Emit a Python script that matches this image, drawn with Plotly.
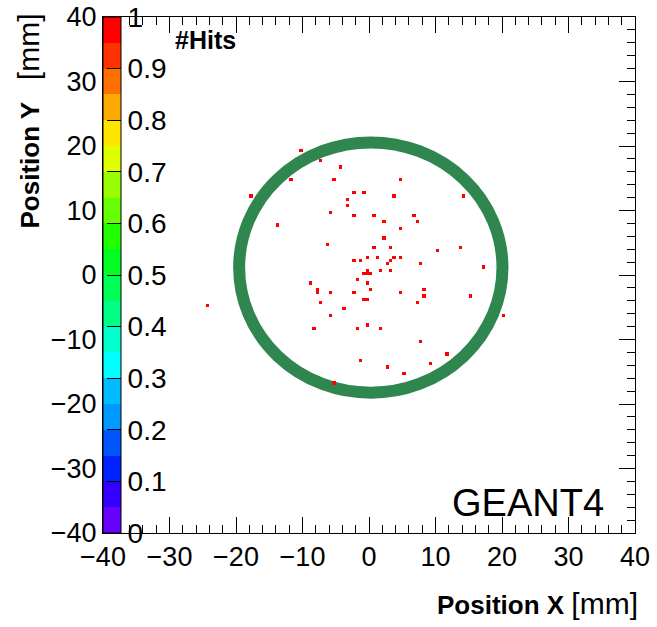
import numpy as np
import plotly.graph_objects as go

# ---- data: hit positions (mm) ----
hit_x = [-10.4, -7.4, -4.4, -11.8, -5.3, 4.7, -2.4, -0.9, 3.6, 14.2, -17.9, -3.4, -3.4,
         -5.9, -2.4, 0.6, 6.7, 2.1, 7.2, -13.9, 4.7, 2.1, -6.4, 0.6, 3.2, 10.2, 13.7,
         -0.4, 1.2, 3.7, 4.7, -2.4, -1.4, 3.2, 2.7, 7.7, 17.2, -0.4, -0.9, -0.4, 0.1,
         1.6, 3.2, -1.9, -8.9, -0.4, 0.1, -7.9, -7.9, -5.9, -2.4, 4.7, 8.2, 8.2, 15.2,
         -0.9, -0.4, -7.4, 7.2, -3.9, -5.9, 20.2, -8.4, -1.9, -0.4, 1.6, 7.7, 11.7,
         -1.4, 2.7, 9.2, 5.2, -5.4, -24.4]
hit_y = [19.2, 17.7, 16.7, 14.7, 14.7, 14.7, 12.7, 12.7, 12.2, 12.2, 12.2, 11.7, 10.7,
         9.7, 9.2, 9.2, 9.2, 8.2, 8.2, 7.7, 7.2, 5.7, 4.7, 4.2, 4.2, 3.7, 4.2,
         2.7, 2.7, 2.7, 2.7, 2.2, 2.2, 2.2, 1.7, 1.7, 1.2, 0.7, 0.2, 0.2, 0.2,
         0.7, 0.7, -0.8, -1.3, -1.3, -2.3, -2.3, -2.8, -2.8, -2.8, -2.8, -2.3, -3.3, -3.3,
         -3.8, -3.8, -4.3, -4.3, -5.3, -6.3, -6.3, -8.3, -8.3, -7.8, -8.3, -10.3, -12.4,
         -13.3, -14.3, -13.8, -15.3, -16.8, -4.8]

# histogram binning
x_min, x_max, n_bins = -40.0, 40.0, 160

# colour bar ticks
cbar_ticks = [0, 0.1, 0.2, 0.3, 0.4, 0.5, 0.6, 0.7, 0.8, 0.9, 1]
cbar_text = ["0", "0.1", "0.2", "0.3", "0.4", "0.5", "0.6", "0.7", "0.8", "0.9", "1"]

# 20-level palette (low -> high)
palette = ["#6600ff", "#3300ff", "#0022ff", "#0055ff", "#0099ff", "#00bbff", "#00ffff",
           "#00ffcc", "#00ff88", "#00ff55", "#00ff22", "#22ff00", "#66ff00", "#99ff00",
           "#ddff00", "#ffe600", "#ffaa00", "#ff7000", "#ff3300", "#ff0000"]

# ---- build 2D histogram ----
edges = np.linspace(x_min, x_max, n_bins + 1)
centers = 0.5 * (edges[:-1] + edges[1:])
counts, _, _ = np.histogram2d(hit_x, hit_y, bins=[edges, edges])
z = counts.T.astype(object)
z[counts.T == 0] = None

n = len(palette)
colorscale = []
for i, c in enumerate(palette):
    colorscale.append([i / n, c])
    colorscale.append([(i + 1) / n, c])

W, H = 657, 627
ml, mr, mt, mb = 103, 22, 17, 94
pw, ph = W - ml - mr, H - mt - mb

fig = go.Figure()
fig.add_trace(go.Heatmap(
    x=centers, y=centers, z=z, zmin=0, zmax=1, colorscale=colorscale,
    hoverongaps=False,
    colorbar=dict(
        x=0, xanchor="left", xpad=0, y=0.5, yanchor="middle", ypad=0,
        len=1, lenmode="fraction", thickness=18,
        outlinewidth=1, outlinecolor="black",
        tickvals=cbar_ticks, ticktext=cbar_text,
        ticks="inside", ticklen=14, tickcolor="black", tickwidth=1,
        tickfont=dict(family="Liberation Sans, Arial, sans-serif", size=28, color="black"),
    ),
))

# detector ring
cx, cy, rx, ry = 0.27, 1.15, 19.8, 19.4
fig.add_shape(type="circle", xref="x", yref="y",
              x0=cx - rx, x1=cx + rx, y0=cy - ry, y1=cy + ry,
              line=dict(color="rgb(47,135,79)", width=12), layer="below")

axis_common = dict(
    range=[x_min, x_max], showgrid=False, zeroline=False, automargin=False,
    showline=True, linecolor="black", linewidth=1, mirror="ticks",
    ticks="inside", ticklen=16, tickcolor="black", tickwidth=1,
    tick0=-40, dtick=10,
    minor=dict(ticks="inside", ticklen=8, dtick=2, tickcolor="black", tickwidth=1),
    tickfont=dict(family="Liberation Sans, Arial, sans-serif", size=27, color="black"),
)
fig.update_xaxes(**axis_common)
fig.update_yaxes(**axis_common)

fnt = "Liberation Sans, Arial, sans-serif"
annotations = [
    dict(text="<b>Position X</b> <span style='font-size:30px'>[mm]</span>",
         xref="paper", yref="paper", x=(640 - ml) / pw, y=(H - mb - 603) / ph,
         xanchor="right", yanchor="middle", showarrow=False,
         font=dict(family=fnt, size=26, color="black")),
    dict(text="<b>Position Y</b>   <span style='font-size:30px'>[mm]</span>",
         xref="paper", yref="paper", x=(28 - ml) / pw, y=(H - mb - 12) / ph,
         xanchor="center", yanchor="top", textangle=-90, showarrow=False,
         font=dict(family=fnt, size=26, color="black")),
    dict(text="<b>#Hits</b>", xref="paper", yref="paper",
         x=(205 - ml) / pw, y=(H - mb - 40) / ph, xanchor="center", yanchor="middle",
         showarrow=False, font=dict(family=fnt, size=25, color="black")),
    dict(text="GEANT4", xref="paper", yref="paper",
         x=(528 - ml) / pw, y=(H - mb - 503) / ph, xanchor="center", yanchor="middle",
         showarrow=False, font=dict(family=fnt, size=38, color="black")),
]

fig.update_layout(
    width=W, height=H, autosize=False,
    margin=dict(l=ml, r=mr, t=mt, b=mb, pad=0, autoexpand=False),
    paper_bgcolor="white", plot_bgcolor="white",
    showlegend=False, annotations=annotations,
)

fig.write_html("out.html")
